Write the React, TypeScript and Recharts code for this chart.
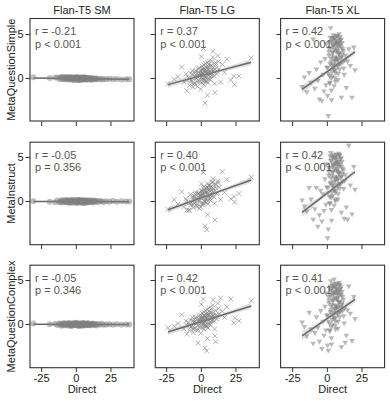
import React from 'react';
import { ComposedChart, Scatter, Line, Area, XAxis, YAxis } from 'recharts';

const models = ['Flan-T5 SM', 'Flan-T5 LG', 'Flan-T5 XL'];
const prompts = ['MetaQuestionSimple', 'MetaInstruct', 'MetaQuestionComplex'];
const xTicks = [-25, 0, 25];
const yTicks = [0, 5];
const xDomain = [-33.4, 41.6];
const yDomain = [-4.89, 6.76];

const statR = [
  ['-0.21', '0.37', '0.42'],
  ['-0.05', '0.40', '0.42'],
  ['-0.05', '0.42', '0.41'],
];
const statP = [
  ['< 0.001', '< 0.001', '< 0.001'],
  ['= 0.356', '< 0.001', '< 0.001'],
  ['= 0.346', '< 0.001', '< 0.001'],
];

// Direct scores per model (x)
const smX = [-31.0, -19.2, -13.6, -12.1, -10.8, -10.2, -9.1, -8.4, -7.7, -7.1,
  -6.3, -5.8, -5.2, -4.6, -4.1, -3.3, -2.9, -2.2, -1.8, -1.1,
  -0.6, -0.2, 0.3, 0.7, 1.2, 1.6, 2.1, 2.5, 3.2, 3.6,
  4.1, 4.7, 5.3, 5.8, 6.4, 7.0, 7.6, 8.3, 9.1, 9.8,
  10.6, 11.5, 12.4, 13.3, 14.2, 15.4, 16.8, 18.1, 19.7, 21.6,
  23.9, 26.4, 29.2, 32.5, 35.8, 38.2, -15.3, 1.9, 5.1, -3.7,
  -11.5, -9.7, -8.0, -6.8, -5.5, -4.3, -3.0, -2.5, -1.4, -0.9,
  0.0, 0.5, 1.0, 1.4, 2.3, 2.9, 3.4, 3.9, 4.4, 5.0,
  5.6, 6.1, 6.7, 7.3, 8.0, 8.8, 9.5, 10.9, 12.0, 13.8];
const lgX = [-24.1, -19.5, -16.8, -14.2, -12.5, -11.1, -10.4, -9.2, -8.5, -7.8,
  -7.0, -6.4, -5.9, -5.1, -4.6, -4.0, -3.5, -2.9, -2.3, -1.8,
  -1.4, -0.9, -0.4, 0.1, 0.5, 0.9, 1.3, 1.8, 2.2, 2.6,
  3.0, 3.4, 3.9, 4.3, 4.8, 5.2, 5.7, 6.1, 6.6, 7.2,
  7.7, 8.3, 8.9, 9.6, 10.3, 11.1, 11.9, 12.8, 13.9, 15.2,
  16.7, 18.4, 21.3, 23.5, 24.1, 27.2, 36.0, 1.5, 2.7, -10.5,
  8.4, 4.5, 0.0, 9.8,
  -2.0, 0.8, 2.4, 3.6, 5.0, 6.3, 7.5, -0.2, 1.1, 4.0, 5.5, 8.0, -3.2, -6.1, 10.8, 3.2,
  -7.5, -6.2, -5.0, -4.2, -3.6, -2.7, -2.1, -1.5, -1.0, -0.6,
  -0.1, 0.3, 0.7, 1.0, 1.4, 1.9, 2.3, 2.8, 3.1, 3.5,
  3.8, 4.2, 4.6, 5.1, 5.4, 5.9, 6.4, 6.9, 7.4, 8.1,
  8.7, 9.3, 10.1, 11.4, 12.3, -8.8, -4.9, 0.4, 2.0, 6.7];
const xlX = [-18.2, -16.5, -14.8, -13.1, -11.7, -10.2, -9.0, -7.9, -6.8, -5.7,
  -4.8, -3.9, -3.1, -2.4, -1.7, -1.0, -0.4, 0.2, 0.7, 1.2,
  1.7, 2.1, 2.5, 2.9, 3.3, 3.7, 4.1, 4.5, 4.9, 5.3,
  5.7, 6.1, 6.5, 6.9, 7.3, 7.7, 8.1, 8.5, 8.9, 9.3,
  9.7, 10.1, 10.6, 11.1, 11.6, 12.2, 12.9, 13.7, 14.6, 15.5,
  16.6, 17.8, 19.1, 20.0, 0.7, 2.4, 4.0, 5.5, 6.8, 8.2,
  9.5, 3.1, 10.8, -0.8,
  1.0, 2.0, 3.5, 4.4, 5.0, 6.0, 6.6, 7.5, 8.4, 9.0, 3.9, 5.9, 7.0, 8.8, 2.7, 4.7,
  0.4, 1.1, 1.6, 2.3, 2.6, 3.0, 3.5, 3.8, 4.3, 4.6,
  5.1, 5.4, 5.8, 6.3, 6.6, 7.1, 7.4, 7.9, 8.2, 8.7,
  9.0, 9.5, 9.9, 10.4, 11.0, 11.8, 1.9, 3.6, 4.9, 6.4,
  7.2, 8.0, 9.2, 5.6, 2.8, 4.4, 6.0, 7.6, 10.2, 12.5];

// prompt scores (y) per model and prompt
const smSimpleY = [0.15, 0.05, 0.12, -0.10, 0.08, 0.20, -0.05, 0.10, 0.02, -0.12,
  0.18, 0.04, -0.08, 0.14, 0.00, -0.15, 0.10, 0.06, -0.20, 0.12,
  0.03, -0.06, 0.16, -0.10, 0.08, 0.00, -0.14, 0.10, -0.04, 0.07,
  -0.18, 0.02, 0.05, -0.09, 0.12, -0.03, -0.12, 0.06, -0.07, 0.02,
  -0.16, 0.04, -0.05, -0.10, 0.03, -0.08, -0.02, -0.12, -0.05, -0.09,
  -0.04, -0.10, -0.06, -0.12, -0.08, -0.10, 0.10, -0.20, 0.15, 0.05,
  0.10, -0.06, 0.14, 0.02, -0.10, 0.08, 0.12, -0.04, 0.06, -0.12,
  0.10, -0.02, 0.04, -0.14, 0.08, 0.00, -0.08, 0.12, -0.06, 0.02,
  -0.10, 0.04, 0.08, -0.12, 0.00, -0.06, 0.06, -0.10, -0.02, -0.08];
const smInstructY = [0.02, -0.04, 0.10, -0.08, 0.14, -0.12, 0.06, -0.02, 0.18, -0.10,
  0.04, 0.12, -0.16, 0.08, -0.06, 0.20, -0.04, 0.10, -0.14, 0.02,
  0.16, -0.08, 0.06, -0.18, 0.12, 0.00, -0.10, 0.14, -0.04, 0.08,
  -0.12, 0.18, -0.06, 0.04, -0.16, 0.10, 0.02, -0.08, 0.14, -0.02,
  0.06, -0.12, 0.10, -0.04, 0.08, -0.10, 0.04, 0.02, -0.06, 0.03,
  -0.02, 0.04, -0.03, 0.02, -0.01, 0.01, -0.10, 0.12, -0.14, 0.08,
  -0.06, 0.10, -0.02, 0.14, -0.08, 0.04, -0.12, 0.08, 0.00, 0.12,
  -0.10, 0.06, -0.04, 0.16, -0.06, 0.02, 0.10, -0.14, 0.04, -0.02,
  0.08, -0.10, 0.12, 0.00, -0.08, 0.06, -0.02, 0.10, -0.06, 0.04];
const smComplexY = [0.10, 0.03, -0.06, 0.12, -0.14, 0.06, 0.16, -0.08, 0.02, 0.10,
  -0.12, 0.04, 0.18, -0.06, 0.08, -0.16, 0.12, 0.00, -0.10, 0.14,
  -0.04, 0.20, -0.12, 0.06, -0.02, 0.10, -0.18, 0.04, 0.12, -0.08,
  0.02, -0.14, 0.16, -0.04, 0.06, -0.10, 0.08, 0.14, -0.06, 0.02,
  -0.08, 0.10, -0.02, 0.06, -0.12, 0.04, -0.04, 0.08, -0.02, 0.01,
  0.03, -0.04, 0.02, -0.02, 0.01, -0.01, 0.08, -0.12, 0.10, -0.06,
  0.04, -0.10, 0.08, -0.04, 0.12, -0.14, 0.02, 0.10, -0.06, 0.06,
  0.14, -0.08, 0.00, 0.08, -0.12, 0.10, -0.02, 0.04, 0.12, -0.06,
  0.02, 0.08, -0.10, 0.06, -0.04, 0.10, -0.08, 0.02, 0.06, -0.02];

const lgSimpleY = [-0.6, -0.1, 0.2, 1.3, -0.4, 0.5, -0.2, 0.1, -0.8, 0.6,
  -0.3, 0.9, -1.0, 0.2, -0.5, 0.7, 0.0, -0.9, 1.1, 0.3,
  -0.4, 0.6, -1.2, 0.1, 1.4, -0.2, 0.5, -0.7, 0.9, 0.2,
  1.7, -0.3, 0.6, 1.2, -0.5, 0.4, 2.0, 0.8, -0.1, 1.5,
  0.3, 2.4, 0.9, -0.6, 1.8, 0.5, 2.6, 1.1, -0.4, 1.6,
  0.7, 2.2, -0.2, 0.26, -0.7, 0.26, 2.35, 3.4, -2.8, -1.4,
  3.1, -1.9, 2.5, -1.6,
  0.4, 1.0, -0.3, 0.8, 1.3, 0.2, 1.0, 0.5, 0.0, 0.9, 1.6, 0.6, 0.3, -0.6, 1.2, 0.1,
  -0.2, 0.5, -0.6, 0.9, 0.1, -0.4, 0.7, 1.2, -0.1, 0.4,
  0.9, -0.5, 1.1, 0.3, 0.6, 1.5, -0.2, 0.8, 0.2, 1.3,
  -0.3, 0.7, 1.8, 0.4, 1.0, -0.1, 1.4, 0.6, 2.0, 0.9,
  1.2, 0.3, 1.6, 0.8, 1.9, 0.0, 0.2, 0.6, 1.1, 0.5];
const lgInstructY = [-0.9, 0.2, -0.3, 1.1, -0.6, 0.3, 0.1, -1.0, -1.0, 0.8,
  -0.1, 0.5, -0.7, 0.6, -0.2, 1.0, -0.5, -0.3, 0.9, 0.1,
  -0.8, 0.7, -0.6, 0.4, 1.2, -0.4, 0.8, -0.2, 1.3, 0.0,
  1.5, 0.2, -3.2, 1.6, -0.3, 0.7, 1.9, 1.2, 0.1, 1.7,
  0.6, 2.2, 1.4, -0.2, 2.0, 0.9, 2.3, 1.6, 0.2, 3.4,
  1.0, 2.5, 0.3, 0.56, -0.07, 0.9, 2.75, 3.3, -2.8, -1.0,
  2.6, -1.5, 2.0, -2.1,
  0.5, 1.2, 0.0, 1.0, 1.5, 0.4, 1.3, 0.7, -0.2, 1.1, 1.8, 0.9, 0.2, -0.4, 1.5, 0.3,
  -0.4, 0.3, -0.2, 0.8, 0.4, -0.6, 0.9, 1.0, 0.1, 0.6,
  1.2, -0.3, 0.9, 0.5, 0.8, 1.7, 0.0, 1.1, 0.4, 1.5,
  -0.1, 0.9, 2.0, 0.6, 1.3, 0.2, 1.6, 0.8, 2.2, 1.1,
  1.5, 0.5, 1.9, 1.0, 2.1, -0.2, 0.4, 0.8, 1.3, 0.7];
const lgComplexY = [-0.37, -0.2, 0.1, 1.1, -0.5, 0.4, -0.1, 0.2, -0.7, 0.5,
  -0.2, 0.8, -0.9, 0.3, -0.4, 0.8, 0.1, -0.7, -2.1, 0.4,
  -0.3, 0.7, -1.0, 0.2, 1.3, -0.1, 0.6, -0.5, 1.0, 0.3,
  1.6, -0.2, -3.0, 1.1, -0.4, 0.5, 1.9, 0.9, 0.0, 1.4,
  0.4, 2.2, 1.0, -0.5, -1.96, 0.6, 2.4, 1.2, 3.0, 1.5,
  0.8, 2.0, 2.9, 0.2, 0.74, 0.4, 2.7, 2.9, -2.7, -1.1,
  2.8, -1.6, 2.3, -1.3,
  0.3, 0.9, -0.2, 0.7, 1.2, 0.3, 0.9, 0.4, 0.1, 0.8, 1.5, 0.5, 0.2, -0.5, 1.1, 0.0,
  -0.3, 0.4, -0.5, 0.7, 0.2, -0.5, 0.6, 1.0, 0.0, 0.5,
  1.0, -0.4, 0.9, 0.4, 0.7, 1.4, -0.1, 0.9, 0.3, 1.2,
  -0.2, 0.8, 1.7, 0.5, 1.1, 0.0, 1.3, 0.7, 1.8, 1.0,
  1.3, 0.4, 1.6, 0.9, 1.8, -0.1, 0.3, 0.7, 1.0, 0.6];

const xlSimpleY = [-1.0, 0.1, -1.6, 0.6, -0.5, 4.4, -1.2, 1.0, -0.3, -2.4,
  1.8, -2.6, 0.4, -1.5, 2.2, -0.8, 1.2, -2.0, 0.5, 3.0,
  -0.6, 1.6, 4.1, -1.4, 2.5, 0.2, 3.6, 1.1, -0.9, 4.6,
  2.0, 0.6, 3.3, 4.2, 1.5, -0.2, 2.8, 4.5, 1.0, 3.7,
  2.3, -2.2, 4.0, 1.8, 3.1, 0.4, 2.6, -1.1, 1.9, 3.3,
  1.4, -2.2, 3.5, 0.9, -4.3, 5.7, 2.9, 3.9, 2.4, 3.5,
  4.3, -2.5, 2.7, 3.9,
  3.4, 4.6, 1.4, 4.9, 0.9, 4.0, 2.2, 3.8, 5.0, 1.7, 4.4, -0.4, 4.8, 2.9, 0.0, 3.2,
  1.2, 2.6, 0.3, 3.4, 1.8, 4.2, 0.7, 2.9, 3.8, 1.5,
  4.5, 2.3, 0.9, 3.6, 4.8, 2.0, 3.1, 0.5, 4.1, 2.7,
  3.9, 1.6, 4.4, 2.4, 3.3, 1.1, -0.5, 4.6, 1.9, 3.0,
  4.0, 2.1, 4.7, 0.0, 2.2, 3.7, 4.3, 1.3, 3.5, 2.0];
const xlInstructY = [0.1, -0.6, -1.2, 1.5, 0.2, -2.1, -0.9, 1.5, -2.9, -1.6,
  1.2, -2.3, 0.8, -1.1, 2.5, -0.4, 1.6, -4.2, 0.9, 3.3,
  -0.2, 2.0, 4.6, -1.0, 2.9, 0.6, 4.0, 1.5, -0.5, 5.0,
  2.4, 1.0, 3.7, 4.7, 1.9, 0.2, 3.2, 5.2, 1.4, 4.1,
  2.7, -1.3, 4.5, 2.2, 3.5, -2.0, 3.0, -0.7, -2.1, 6.3,
  1.8, -1.5, 3.9, 1.3, -3.2, 5.5, 3.3, 4.3, 2.8, 3.9,
  4.8, -2.2, 3.1, 4.2,
  3.8, 5.1, 1.8, 5.3, 1.2, 4.4, 2.6, 4.2, 5.4, 2.0, 4.9, 0.0, 5.2, 3.3, 0.4, 3.6,
  1.5, 2.9, 0.5, 3.8, 2.1, 4.6, 1.0, 3.3, 4.2, 1.8,
  5.0, 2.7, 1.2, 4.0, 5.3, 2.4, 3.5, 0.8, 4.5, 3.1,
  4.3, 1.9, 4.9, 2.8, 3.7, 1.4, -0.3, 5.1, 2.2, 3.4,
  4.4, 2.5, 5.2, 0.2, 2.6, 4.1, 4.8, 1.6, 3.9, 2.3];
const xlComplexY = [0.2, -0.3, -1.4, 1.3, -0.6, -2.2, -1.0, 0.8, -0.4, -2.0,
  1.5, -2.8, 0.3, -1.3, 2.0, -0.7, 1.0, -2.4, 0.3, 2.7,
  -0.8, 1.4, 3.8, -1.6, 2.2, -0.1, 3.3, 0.9, 5.1, 4.3,
  1.7, 0.3, 3.0, 4.0, 1.2, -0.5, 2.5, 4.4, 0.8, 3.4,
  2.0, -2.6, 3.7, 1.5, 2.8, 0.1, -2.1, -1.3, 1.6, 4.3,
  1.2, -1.9, 3.1, 0.6, -3.0, 4.9, 2.6, 3.6, 2.1, 3.2,
  4.0, -2.3, 2.4, 3.5,
  3.1, 4.3, 1.1, 4.6, 0.6, 3.7, 1.9, 3.5, 4.7, 1.4, 4.1, -0.6, 4.5, 2.6, -0.3, 2.9,
  1.0, 2.4, 0.1, 3.2, 1.6, 4.0, 0.5, 2.7, 3.6, 1.3,
  4.3, 2.1, 0.7, 3.4, 4.6, 1.8, 2.9, 0.3, 3.9, 2.5,
  3.7, 1.4, 4.2, 2.2, 3.1, 0.9, -0.7, 4.4, 1.7, 2.8,
  3.8, 1.9, 4.5, -0.2, 2.0, 3.5, 4.1, 1.1, 3.3, 1.8];

// regression fit: x at start / middle / end, fitted y, CI half width
const fitX = [[-31.0, 3.6, 38.2], [-24.1, 6.0, 36.0], [-18.2, 0.9, 20.0]];
const fitY = [
  [[0.06, -0.02, -0.10], [-0.70, 0.58, 1.85], [-1.25, 0.89, 3.03]],
  [[0.01, 0.00, -0.02], [-0.94, 0.75, 2.44], [-1.24, 1.07, 3.38]],
  [[0.02, 0.00, -0.01], [-0.85, 0.63, 2.10], [-1.30, 0.78, 2.86]],
];
const fitCI = [[0.05, 0.02, 0.05], [0.35, 0.12, 0.35], [0.5, 0.15, 0.35]];

const xCols = [smX, lgX, xlX];
const yCells = [
  [smSimpleY, lgSimpleY, xlSimpleY],
  [smInstructY, lgInstructY, xlInstructY],
  [smComplexY, lgComplexY, xlComplexY],
];

const colLefts = [30, 155.3, 280.6];
const rowTops = [18.5, 142.2, 265.2];
const PW = 104;
const PH = 102.5;
const AXW = 28;
const AXH = 24;
const FONT = '"Liberation Sans", Arial, sans-serif';
const MARK = '#808080';

const fmt = (v: number) => (v < 0 ? `-${-v}` : `${v}`);
const Blank = () => <g />;

const Dot = (p: any) => <circle cx={p.cx} cy={p.cy} r={3} fill={MARK} fillOpacity={0.5} />;
const Cross = (p: any) => {
  const s = 2.4;
  return (
    <g stroke={MARK} strokeOpacity={0.6} strokeWidth={1}>
      <line x1={p.cx - s} y1={p.cy - s} x2={p.cx + s} y2={p.cy + s} />
      <line x1={p.cx - s} y1={p.cy + s} x2={p.cx + s} y2={p.cy - s} />
    </g>
  );
};
const TriDown = (p: any) => (
  <polygon
    points={`${p.cx - 2.8},${p.cy - 2.2} ${p.cx + 2.8},${p.cy - 2.2} ${p.cx},${p.cy + 2.7}`}
    fill={MARK}
    fillOpacity={0.55}
  />
);
const shapes = [Dot, Cross, TriDown];

function Panel({ row, col }: { row: number; col: number }) {
  const xs = xCols[col];
  const ys = yCells[row][col];
  const points = xs.map((x, i) => ({ x, y: ys[i] }));
  const fit = fitX[col].map((x, i) => {
    const y = fitY[row][col][i];
    const h = fitCI[col][i];
    return { x, y, band: [y - h, y + h] };
  });
  const showX = row === 2;
  const showY = col === 0;
  const tickStyle = { fill: '#222', fontSize: 11, fontFamily: FONT };
  return (
    <div style={{ position: 'absolute', left: colLefts[col] - AXW, top: rowTops[row] }}>
      <ComposedChart
        width={PW + AXW + 4}
        height={PH + AXH}
        data={fit}
        margin={{ top: 0, right: 4, bottom: 0, left: 0 }}
      >
        <XAxis
          type="number"
          dataKey="x"
          domain={xDomain}
          ticks={xTicks}
          interval={0}
          allowDataOverflow
          axisLine={false}
          tickLine={{ stroke: '#333' }}
          tickSize={4.5}
          tickMargin={2}
          height={AXH}
          tick={showX ? tickStyle : Blank}
          tickFormatter={fmt}
        />
        <YAxis
          type="number"
          domain={yDomain}
          ticks={yTicks}
          interval={0}
          allowDataOverflow
          axisLine={false}
          tickLine={{ stroke: '#333' }}
          tickSize={4.5}
          tickMargin={2}
          width={AXW}
          tick={showY ? tickStyle : Blank}
        />
        <Area dataKey="band" stroke="none" fill="#9a9a9a" fillOpacity={0.3} isAnimationActive={false} />
        <Scatter data={points} dataKey="y" shape={shapes[col]} isAnimationActive={false} />
        <Line dataKey="y" stroke="#666" strokeWidth={1.5} dot={false} isAnimationActive={false} />
      </ComposedChart>
    </div>
  );
}

export default function App() {
  const cells: React.ReactNode[] = [];
  for (let r = 0; r < 3; r++) {
    for (let c = 0; c < 3; c++) cells.push(<Panel key={`${r}-${c}`} row={r} col={c} />);
  }
  return (
    <div style={{ position: 'absolute', left: 0, top: 0, width: 390, height: 401, background: '#fff', fontFamily: FONT }}>
      {cells}
      <svg width={390} height={401} style={{ position: 'absolute', left: 0, top: 0, pointerEvents: 'none' }}>
        {rowTops.map((t, r) =>
          colLefts.map((l, c) => (
            <g key={`f${r}${c}`}>
              <rect x={l} y={t} width={PW} height={PH} fill="none" stroke="#333" strokeWidth={1.1} />
              <text x={l + 5} y={t + 16.5} fontSize={11} fill="#555" fontFamily={FONT}>{`r = ${statR[r][c]}`}</text>
              <text x={l + 5} y={t + 29} fontSize={11} fill="#555" fontFamily={FONT}>{`p ${statP[r][c]}`}</text>
            </g>
          ))
        )}
        {models.map((m, c) => (
          <text key={m} x={colLefts[c] + PW / 2} y={13.5} textAnchor="middle" fontSize={11} fill="#222" fontFamily={FONT}>{m}</text>
        ))}
        {colLefts.map((l, c) => (
          <text key={`d${c}`} x={l + PW / 2} y={393} textAnchor="middle" fontSize={11} fill="#222" fontFamily={FONT}>Direct</text>
        ))}
        {prompts.map((p, r) => {
          const cy = rowTops[r] + PH / 2;
          return (
            <text key={p} x={15} y={cy} transform={`rotate(-90 15 ${cy})`} textAnchor="middle" fontSize={11} fill="#222" fontFamily={FONT}>{p}</text>
          );
        })}
      </svg>
    </div>
  );
}
